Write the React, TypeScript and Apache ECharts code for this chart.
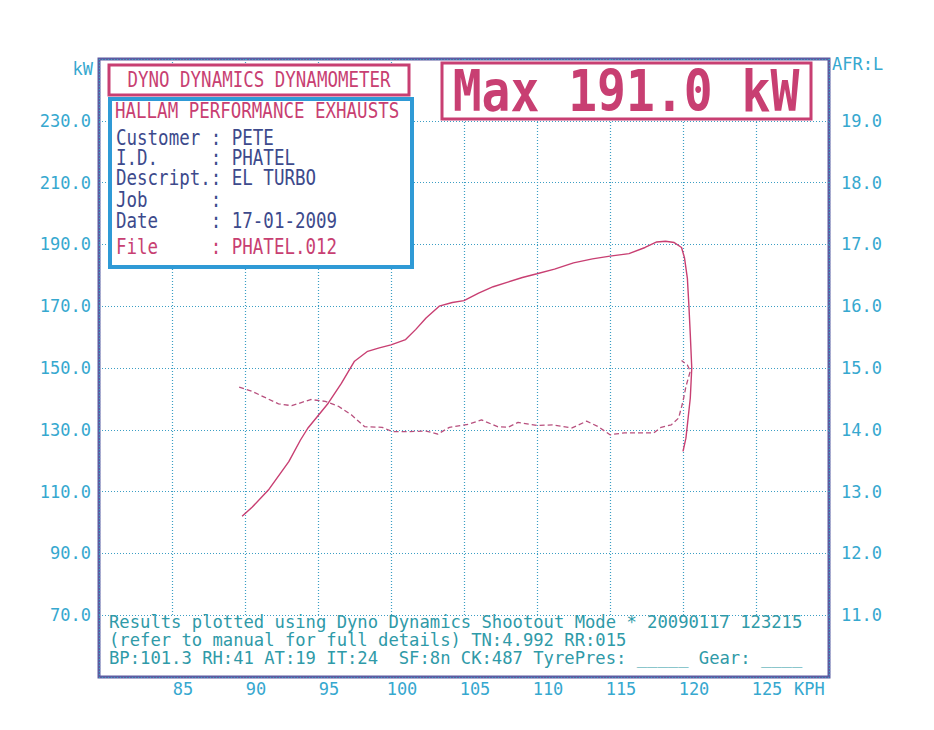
import React, { useEffect, useRef } from "react";
import * as echarts from "echarts";

// ---- data read from the dyno sheet ----
const powerSpeed = [89.8, 90.5, 91.6, 93.0, 93.8, 94.3, 95.7, 96.6, 97.5, 98.4, 99.2, 100.0, 101.0, 101.7, 102.4, 103.3, 104.2, 105.0, 106.0, 107.0, 108.0, 109.0, 110.0, 111.2, 112.5, 113.8, 115.0, 116.3, 117.4, 118.2, 118.8, 119.4, 119.9, 120.1, 120.3, 120.4, 120.5, 120.6, 120.5, 120.3, 120.2, 120.0];
const powerKw = [102, 105, 110.5, 119.7, 126.7, 130.5, 138.6, 145, 152.2, 155.4, 156.5, 157.5, 159.2, 162.5, 166.2, 170, 171.2, 171.8, 174.2, 176.3, 177.8, 179.3, 180.5, 182, 184, 185.3, 186.2, 187, 189, 190.8, 191.0, 190.6, 189, 185.7, 179, 170.5, 160.8, 150, 140.3, 131.6, 127.3, 123];

const afrSpeed = [89.6, 90.5, 91.4, 92.3, 93.2, 94.5, 95.5, 96.4, 97.3, 98.2, 99.4, 100.1, 101.2, 102.4, 103.2, 104.0, 105.3, 106.2, 107.3, 108.0, 108.7, 110.0, 111.1, 112.4, 113.4, 114.2, 115.0, 116.0, 117.1, 118.0, 118.5, 119.2, 119.7, 120.0, 120.2, 120.5, 120.3, 119.9];
const afrValue = [14.69, 14.62, 14.52, 14.42, 14.39, 14.49, 14.46, 14.38, 14.24, 14.05, 14.04, 13.97, 13.97, 13.98, 13.93, 14.04, 14.09, 14.16, 14.05, 14.04, 14.12, 14.07, 14.08, 14.03, 14.14, 14.05, 13.92, 13.95, 13.95, 13.95, 14.04, 14.08, 14.19, 14.46, 14.7, 14.95, 15.05, 15.12];

const infoLabels = ["Customer", "I.D.", "Descript.", "Job", "Date", "File"];
const infoValues = ["PETE", "PHATEL", "EL TURBO", "", "17-01-2009", "PHATEL.012"];
const footerLines = [
  "Results plotted using Dyno Dynamics Shootout Mode * 20090117 123215",
  "(refer to manual for full details) TN:4.992 RR:015",
  "BP:101.3 RH:41 AT:19 IT:24  SF:8n CK:487 TyrePres: _____ Gear: ____",
];
const titleText = "DYNO DYNAMICS DYNAMOMETER";
const shopText = "HALLAM PERFORMANCE EXHAUSTS";
const maxText = "Max 191.0 kW";

const MONO = "DejaVu Sans Mono";
const CRIMSON = "#c83f72";
const NAVY = "#3d4a8c";
const CYAN = "#36a8cf";
const TEAL = "#2f9aa8";
const GRIDC = "#3b9ec4";
const FRAME = "#5c5ca2";

export default function App() {
  const ref = useRef<HTMLDivElement>(null);
  useEffect(() => {
    if (!ref.current) return;
    const chart = echarts.init(ref.current, null, { renderer: "svg" });
    const G = { left: 99, top: 59, width: 730, height: 618 };

    const infoGraphics: any[] = infoLabels.map((lab, i) => ({
      type: "text",
      x: 116,
      y: [138, 158, 178, 200, 221, 247][i],
      scaleY: 1.2,
      z: 20,
      style: {
        text: lab.padEnd(9, " ") + ": " + infoValues[i],
        font: `17.5px '${MONO}'`,
        fill: lab === "File" ? CRIMSON : NAVY,
        verticalAlign: "middle",
      },
    }));

    const footerGraphics: any[] = footerLines.map((t, i) => ({
      type: "text",
      x: 109,
      y: 622 + i * 18,
      z: 20,
      style: {
        text: t,
        font: `17.2px '${MONO}'`,
        fill: TEAL,
        verticalAlign: "middle",
      },
    }));

    chart.setOption({
      animation: false,
      backgroundColor: "#ffffff",
      grid: {
        ...G,
        show: true,
        borderColor: FRAME,
        borderWidth: 3,
        backgroundColor: "#ffffff",
        containLabel: false,
      },
      xAxis: {
        type: "value",
        min: 80,
        max: 130,
        interval: 5,
        axisLine: { show: false },
        axisTick: { show: false },
        axisLabel: {
          color: CYAN,
          fontFamily: MONO,
          fontSize: 17,
          margin: 3,
          padding: [0, 0, 0, 22],
          formatter: (v: number) => (v === 80 || v === 130 ? "" : String(v)),
        },
        splitLine: { show: true, lineStyle: { color: GRIDC, type: [1, 2], width: 1.2 } },
      },
      yAxis: [
        {
          type: "value",
          min: 50,
          max: 250,
          interval: 20,
          axisLine: { show: false },
          axisTick: { show: false },
          axisLabel: {
            color: CYAN,
            fontFamily: MONO,
            fontSize: 17,
            margin: 8,
            formatter: (v: number) => (v === 50 || v === 250 ? "" : v.toFixed(1)),
          },
          splitLine: { show: true, lineStyle: { color: GRIDC, type: [1, 2], width: 1.2 } },
        },
        {
          type: "value",
          position: "right",
          min: 10,
          max: 20,
          interval: 1,
          axisLine: { show: false },
          axisTick: { show: false },
          axisLabel: {
            color: CYAN,
            fontFamily: MONO,
            fontSize: 17,
            margin: 12,
            formatter: (v: number) => (v === 10 || v === 20 ? "" : v.toFixed(1)),
          },
          splitLine: { show: false },
        },
      ],
      series: [
        {
          type: "line",
          name: "Power",
          yAxisIndex: 0,
          data: powerSpeed.map((s, i) => [s, powerKw[i]]),
          showSymbol: false,
          smooth: false,
          lineStyle: { color: CRIMSON, width: 1.4 },
          z: 5,
        },
        {
          type: "line",
          name: "AFR",
          yAxisIndex: 1,
          data: afrSpeed.map((s, i) => [s, afrValue[i]]),
          showSymbol: false,
          smooth: false,
          lineStyle: { color: "#b8507e", width: 1.3, type: [5, 3] },
          z: 4,
        },
      ],
      graphic: [
        // footer panel hides grid lines below 70 kW
        {
          type: "rect",
          z: 10,
          shape: { x: 101, y: 616, width: 726, height: 59 },
          style: { fill: "#ffffff" },
        },
        ...footerGraphics,
        // title box
        {
          type: "rect",
          z: 10,
          shape: { x: 109, y: 65, width: 300, height: 30 },
          style: { fill: "#ffffff", stroke: CRIMSON, lineWidth: 3 },
        },
        {
          type: "text",
          x: 259,
          y: 80,
          scaleY: 1.2,
          z: 20,
          style: { text: titleText, font: `17.5px '${MONO}'`, fill: CRIMSON, align: "center", verticalAlign: "middle" },
        },
        // info box
        {
          type: "rect",
          z: 10,
          shape: { x: 110, y: 99, width: 302, height: 168 },
          style: { fill: "#ffffff", stroke: "#2f9ad6", lineWidth: 4 },
        },
        {
          type: "text",
          x: 115,
          y: 111,
          scaleY: 1.2,
          z: 20,
          style: { text: shopText, font: `17.5px '${MONO}'`, fill: CRIMSON, verticalAlign: "middle" },
        },
        ...infoGraphics,
        // max box
        {
          type: "rect",
          z: 10,
          shape: { x: 442, y: 63, width: 369, height: 56 },
          style: { fill: "#ffffff", stroke: CRIMSON, lineWidth: 3 },
        },
        {
          type: "text",
          x: 626,
          y: 91,
          scaleY: 1.2,
          z: 20,
          style: { text: maxText, font: `bold 48px '${MONO}'`, fill: CRIMSON, align: "center", verticalAlign: "middle" },
        },
        // unit labels
        {
          type: "text",
          x: 93,
          y: 69,
          z: 20,
          style: { text: "kW", font: `17px '${MONO}'`, fill: CYAN, align: "right", verticalAlign: "middle" },
        },
        {
          type: "text",
          x: 832,
          y: 64,
          z: 20,
          style: { text: "AFR:L", font: `17px '${MONO}'`, fill: CYAN, align: "left", verticalAlign: "middle" },
        },
        {
          type: "text",
          x: 794,
          y: 689,
          z: 20,
          style: { text: "KPH", font: `17px '${MONO}'`, fill: CYAN, align: "left", verticalAlign: "middle" },
        },
      ],
    });
    return () => chart.dispose();
  }, []);
  return (
    <div
      ref={ref}
      style={{ position: "absolute", left: 0, top: 0, width: 934, height: 730, background: "#ffffff" }}
    />
  );
}
